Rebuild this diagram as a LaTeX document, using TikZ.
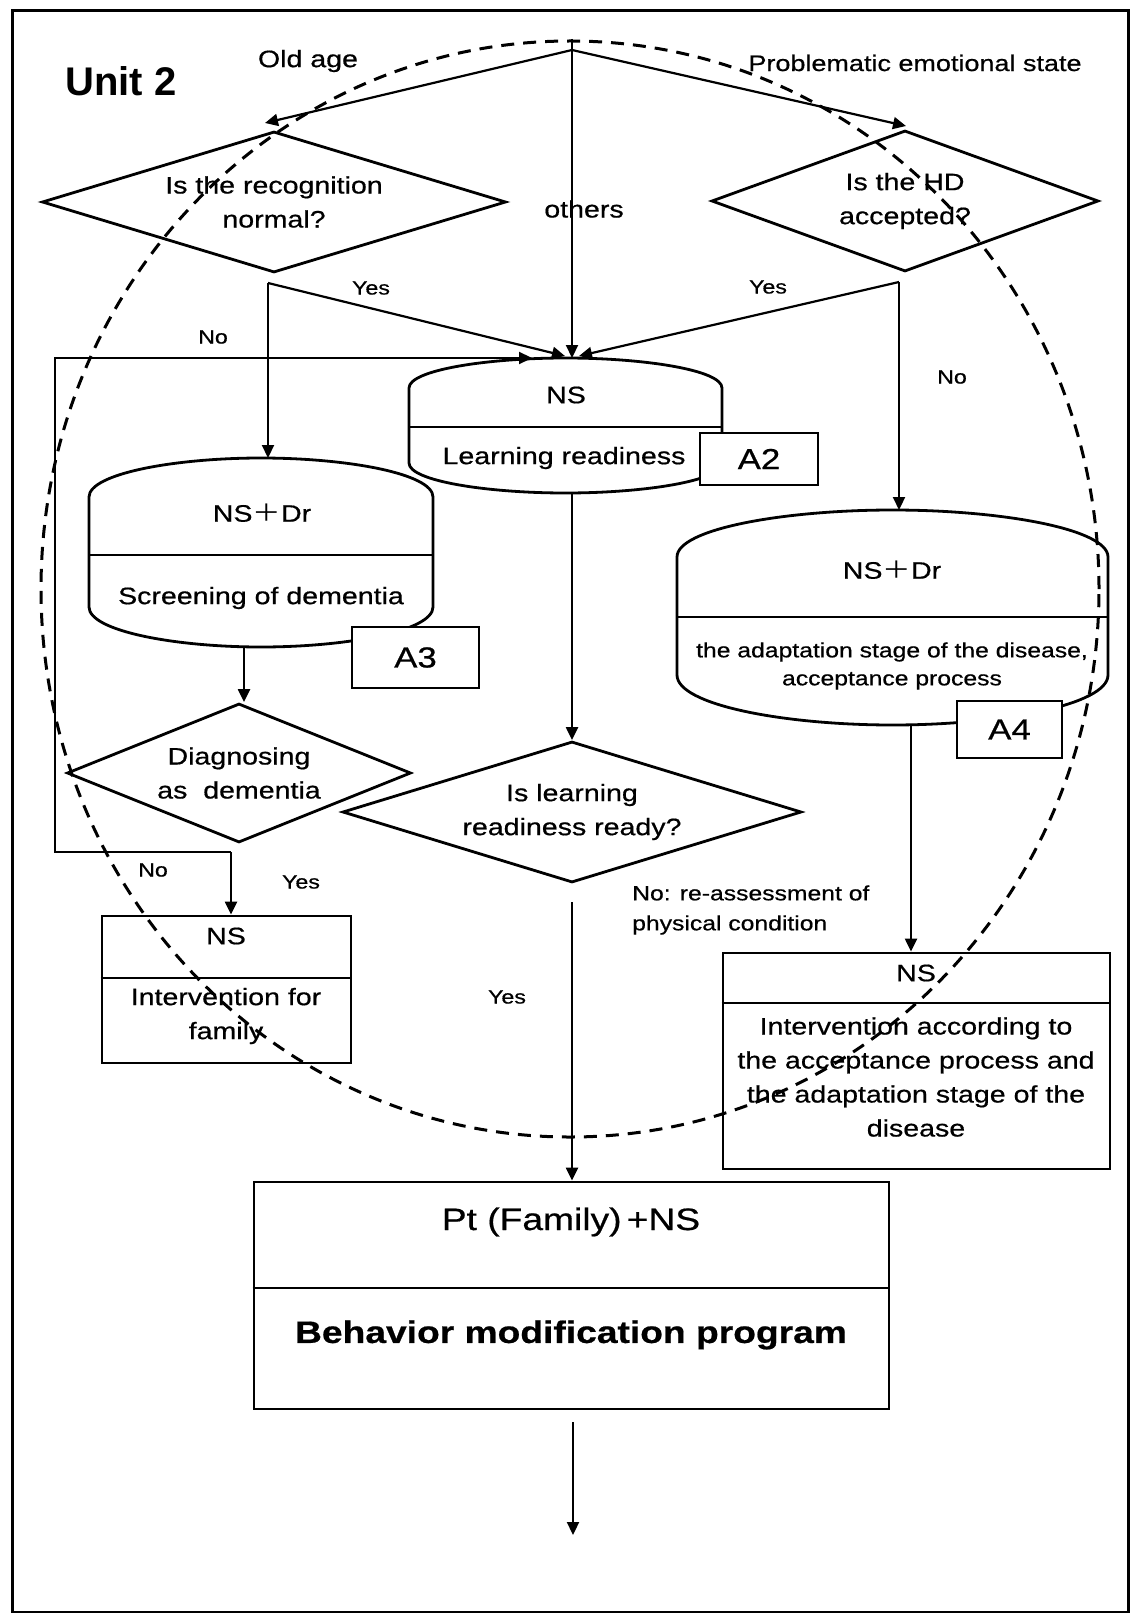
\documentclass[tikz,border=0pt]{standalone}
\usepackage{fontspec}
\setmainfont{Liberation Sans}[FakeStretch=1.2,FakeBold=0.6]
\newfontfamily\unitfont{Liberation Sans}
\newfontfamily\cjkfont{Noto Sans CJK JP}[FakeStretch=1.2]
\usetikzlibrary{arrows.meta,shapes.geometric,calc}

\newcommand\fmain{\fontsize{23.8}{34}\selectfont}
\newcommand\fsmall{\fontsize{20.6}{28}\selectfont}
\newcommand\fnote{\fontsize{20.6}{30}\selectfont}
\newcommand\flab{\fontsize{19.3}{24}\selectfont}
\newcommand\fcode{\fontsize{29}{34}\selectfont}
\newcommand\fbig{\fontsize{31}{38}\selectfont}
\newcommand\nsdr{NS{\cjkfont ＋}Dr}

% barrel outline: left, right, top apex, upper shoulder, divider, lower shoulder, bottom apex
\newcommand\barrelshape[7]{%
  \draw[shapeline,fill=white]
    (#1,#4) .. controls (#1,{#4-0.6*(#4-#3)}) and ({#1+0.25*(#2-#1)},#3) .. ({(#1+#2)/2},#3)
    .. controls ({#2-0.25*(#2-#1)},#3) and (#2,{#4-0.6*(#4-#3)}) .. (#2,#4)
    -- (#2,#6) .. controls (#2,{#6+0.6*(#7-#6)}) and ({#2-0.25*(#2-#1)},#7) .. ({(#1+#2)/2},#7)
    .. controls ({#1+0.25*(#2-#1)},#7) and (#1,{#6+0.6*(#7-#6)}) .. (#1,#6) -- cycle;
  \draw[shapeline] (#1,#5) -- (#2,#5);}

\begin{document}
\begin{tikzpicture}[x=1pt,y=-1pt,
  shapeline/.style={line width=2.8pt},
  conn/.style={line width=2.2pt},
  arr/.style={conn,-{Triangle[length=13pt,width=12pt]}},
  decision/.style={diamond,draw,shapeline,inner sep=0pt,align=center,font=\fmain,fill=white},
  plainbox/.style={draw,shapeline,inner sep=0pt,fill=white},
  codebox/.style={draw,shapeline,fill=white,inner sep=0pt,font=\fcode},
  barrelhold/.style={inner sep=0pt,outer sep=0pt},
  txt/.style={font=\fmain,align=center,inner sep=0pt},
  lbl/.style={font=\flab,inner sep=0pt},
  ring/.style={line width=3pt,dash pattern=on 13pt off 9pt}]

\useasboundingbox (0,0) rectangle (1137,1613);

% ---- barrels (process steps with a team and a task)
\barrelshape{89}{433}{458}{497}{555}{607}{647}
\node[barrelhold,minimum width=344pt,minimum height=189pt] (scr) at (261,552.5) {};
\barrelshape{409}{722}{358}{388}{427}{463}{493}
\node[barrelhold,minimum width=313pt,minimum height=135pt] (lr) at (565.5,425.5) {};
\barrelshape{677}{1108}{510}{557}{617}{675}{725}
\node[barrelhold,minimum width=431pt,minimum height=215pt] (adp) at (892.5,617.5) {};

\node[txt] (scrhead) at (262,513) {\nsdr};
\node[txt] (scrbody) at (261,598) {Screening of dementia};
\node[txt] (lrhead) at (566,395) {NS};
\node[txt] (lrbody) at (564,458) {Learning readiness};
\node[txt] (adphead) at (892,570) {\nsdr};
\node[txt,font=\fsmall] (adpbody) at (892,666) {the adaptation stage of the disease,\\acceptance process};

% ---- assessment tags
\node[codebox,minimum width=118pt,minimum height=52pt] (a2) at (759,459) {A2};
\node[codebox,minimum width=127pt,minimum height=61pt] (a3) at (415.5,657.5) {A3};
\node[codebox,minimum width=105pt,minimum height=57pt] (a4) at (1009.5,729.5) {A4};

% ---- decisions
\node[decision,aspect=3.3,minimum width=464pt,minimum height=141pt] (rec) at (274,202) {Is the recognition\\normal?};
\node[decision,aspect=2.74,minimum width=387pt,minimum height=141pt] (hd) at (905,201) {Is the HD\\accepted?};
\node[decision,aspect=2.47,minimum width=344pt,minimum height=139pt] (dia) at (239,773) {Diagnosing\\as~~dementia};
\node[decision,aspect=3.26,minimum width=459pt,minimum height=141pt] (rdy) at (572,812) {Is learning\\readiness ready?};

% ---- boxes
\node[plainbox,minimum width=249pt,minimum height=147pt] (fam) at (226.5,989.5) {};
\draw[shapeline] (fam.west |- 0,978) -- (fam.east |- 0,978);
\node[txt] (famhead) at (226,936) {NS};
\node[txt] (fambody) at (226,1016) {Intervention for\\family};

\node[plainbox,minimum width=387pt,minimum height=216pt] (intv) at (916.5,1061) {};
\draw[shapeline] (intv.west |- 0,1003) -- (intv.east |- 0,1003);
\node[txt] (intvhead) at (916,973) {NS};
\node[txt] (intvbody) at (916,1077) {Intervention according to\\the acceptance process and\\the adaptation stage of the\\disease};

\node[plainbox,minimum width=635pt,minimum height=227pt] (beh) at (571.5,1295.5) {};
\draw[shapeline] (beh.west |- 0,1288) -- (beh.east |- 0,1288);
\node[txt,font=\fbig] (behhead) at (571,1222) {Pt (Family)\,+NS};
\node[txt,font=\fbig\bfseries] (behbody) at (571,1335) {Behavior modification program};

% ---- connectors
\coordinate (src) at (572,39);
\coordinate (fork) at (572,50);
\coordinate (oldtip) at (265,123);
\coordinate (emotip) at (906,126);
\draw[arr] (src) -- (src |- lr.north);
\draw[arr] (fork) -- (oldtip);
\draw[arr] (fork) -- (emotip);

\coordinate (recout) at (268,283);
\coordinate (yestipL) at (565,356);
\draw[arr] (recout) -- (recout |- scr.north);
\draw[arr] (recout) -- (yestipL);

\coordinate (hdout) at (899,282);
\coordinate (yestipR) at (579,356);
\draw[arr] (hdout) -- (hdout |- adp.north);
\draw[arr] (hdout) -- (yestipR);

\draw[arr] ([xshift=-17pt]scr.south) -- ([xshift=-17pt]scr.south |- dia.north);
\draw[arr] ([xshift=6.5pt]lr.south) -- ([xshift=6.5pt]lr.south |- rdy.north);
\draw[arr] ([xshift=18.5pt]adp.south) -- ([xshift=18.5pt]adp.south |- intv.north);

\coordinate (diaout) at (231,852);
\coordinate (loopb) at (55,852);
\coordinate (loopt) at (55,358);
\coordinate (nstip) at (532,358);
\draw[arr] (diaout) -- (diaout |- fam.north);
\draw[arr] (diaout) -- (loopb) -- (loopt) -- (nstip);

\coordinate (rdyout) at (572,902);
\draw[arr] (rdyout) -- (rdyout |- beh.north);

\coordinate (behout) at (573,1422);
\coordinate (endtip) at (573,1535);
\draw[arr] (behout) -- (endtip);

% ---- labels
\node[inner sep=0pt,font=\unitfont\bfseries\fontsize{40}{48}\selectfont] (unit) at (121,81) {Unit 2};
\node[txt] (oldage) at (308,61) {Old age};
\node[txt,font=\fontsize{22.5}{27}\selectfont] (emo) at (915,63) {Problematic emotional state};
\node[txt] (others) at (584,209) {others};
\node[lbl] (yes1) at (371,288) {Yes};
\node[lbl] (yes2) at (768,287) {Yes};
\node[lbl] (no1) at (213,337) {No};
\node[lbl] (no2) at (952,377) {No};
\node[lbl] (no3) at (153,870) {No};
\node[lbl] (yes3) at (301,882) {Yes};
\node[lbl] (yes4) at (507,997) {Yes};
\node[inner sep=0pt,anchor=west,align=left,font=\fnote] (reas) at (632,910) {No: re-assessment of\\physical condition};

% ---- scope of the unit and outer frame
\draw[ring] (570,589) ellipse [x radius=529pt,y radius=548pt];
\draw[line width=3pt] (12,11) rectangle (1128,1612);
\end{tikzpicture}
\end{document}
